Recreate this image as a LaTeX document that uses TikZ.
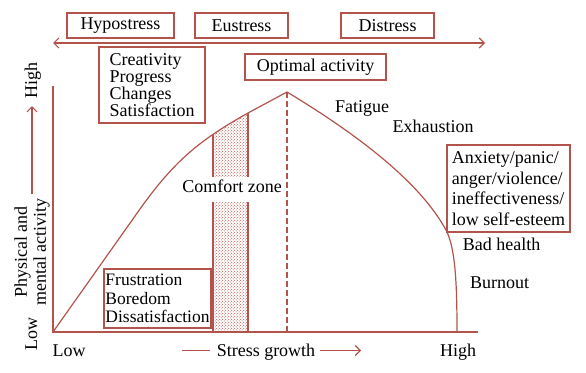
\documentclass[tikz,border=0pt]{standalone}
\usepackage{fontspec}
\setmainfont{Liberation Serif}
\usetikzlibrary{arrows.meta,patterns}
\definecolor{brick}{RGB}{178,84,76}
\pgfdeclarepatternformonly{zonedots}{\pgfqpoint{0pt}{0pt}}{\pgfqpoint{3.4pt}{3.4pt}}{\pgfqpoint{3.4pt}{3.4pt}}{%
  \pgfpathcircle{\pgfqpoint{0.85pt}{0.85pt}}{0.6pt}%
  \pgfpathcircle{\pgfqpoint{2.55pt}{2.55pt}}{0.6pt}%
  \pgfusepath{fill}}
\begin{document}
\begin{tikzpicture}[x=1pt,y=-1pt,
  txt/.style={font=\fontsize{18}{18}\selectfont, inner sep=0pt, text=black},
  box/.style={draw=brick, line width=1.1pt, font=\fontsize{18}{18}\selectfont, inner sep=0pt, text=black},
  ln/.style={draw=brick, line width=1.2pt},
  barb/.style={-{Straight Barb[length=5pt,width=10pt]}},
  dbarb/.style={{Straight Barb[length=5pt,width=10pt]}-{Straight Barb[length=5pt,width=10pt]}}
]
\useasboundingbox (0,0) rectangle (586,372);

% top stress boxes
\node[box, minimum width=107pt, minimum height=25pt] (hypo) at (120.5,25.5) {Hypostress};
\node[box, minimum width=93pt, minimum height=25pt] (eu) at (241.5,25.5) {Eustress};
\node[box, minimum width=93pt, minimum height=25pt] (dis) at (387.5,25.5) {Distress};
\coordinate (tl) at (53,43);
\coordinate (tr) at (485,43);
\draw[ln, dbarb] (tl) -- (tr);

% boxes
\node[box, minimum width=106pt, minimum height=76pt, align=left,
      font=\fontsize{18}{17}\selectfont] (crea) at (152,85)
  {Creativity\\Progress\\Changes\\Satisfaction};
\node[box, minimum width=141pt, minimum height=26pt] (opt) at (315.5,67) {Optimal activity};
\node[box, minimum width=107pt, minimum height=59pt, align=left,
      font=\fontsize{17.5}{18.3}\selectfont] (frus) at (157.5,298.5)
  {Frustration\\Boredom\\Dissatisfaction};
\node[box, minimum width=123pt, minimum height=87pt, align=left,
      font=\fontsize{18}{20.5}\selectfont] (anx) at (508.5,188.5)
  {Anxiety/panic/\\anger/violence/\\ineffectiveness/\\low self-esteem};

% axes
\coordinate (orig) at (53,332);
\coordinate (ytop) at (53,86);
\coordinate (xend) at (478,332);
\draw[ln] (ytop) -- (orig) -- (xend);

% comfort zone hatch
\coordinate (peak) at (287,92);
\begin{scope}
  \clip (orig) -- (140,209) .. controls (175,160) and (200,140) .. (248,113) -- (peak) -- (287,332) -- cycle;
  \fill[pattern=zonedots, pattern color=brick] (213,80) rectangle (248,332);
  \draw[ln] (213,80) -- (213,332) (248,80) -- (248,332);
\end{scope}
\fill[white] (211,177) rectangle (250,202);
\node[txt, anchor=base] (comfort) at (232,192) {Comfort zone};

% curve
\coordinate (foot) at (457,332);
\draw[ln, line join=round] (orig) -- (140,209) .. controls (175,160) and (200,140) .. (248,113) -- (peak)
  .. controls (350,130) and (420,180) .. (447,232)
  .. controls (455,250) and (457,280) .. (foot);
\coordinate (dashbot) at (287,332);
\draw[ln, dash pattern=on 6pt off 3pt] (peak) -- (dashbot);

% curve labels
\node[txt, anchor=base] (fat) at (362,112) {Fatigue};
\node[txt, anchor=base] (exh) at (433,132) {Exhaustion};
\node[txt, anchor=base] (bad) at (501.5,250.7) {Bad health};
\node[txt, anchor=base] (burn) at (499.5,288) {Burnout};

% y axis labels
\node[txt, anchor=base, rotate=90] (yhigh) at (37,80) {High};
\node[txt, anchor=base, rotate=90] (ylow) at (37,334) {Low};
\node[txt, rotate=90, align=center, font=\fontsize{18}{19}\selectfont] (yname) at (32,252) {Physical and\\mental activity};
\coordinate (ya) at (32,194);
\coordinate (yb) at (32,106);
\draw[ln, barb] (ya) -- (yb);

% x axis labels
\node[txt, anchor=base] (xlow) at (69,356) {Low};
\node[txt, anchor=base] (xname) at (266,356) {Stress growth};
\node[txt, anchor=base] (xhigh) at (458,356) {High};
\coordinate (xa1) at (182,350.5);
\coordinate (xa2) at (210,350.5);
\coordinate (xb1) at (320,350.5);
\coordinate (xb2) at (361,350.5);
\draw[ln] (xa1) -- (xa2);
\draw[ln, barb] (xb1) -- (xb2);
\end{tikzpicture}
\end{document}
